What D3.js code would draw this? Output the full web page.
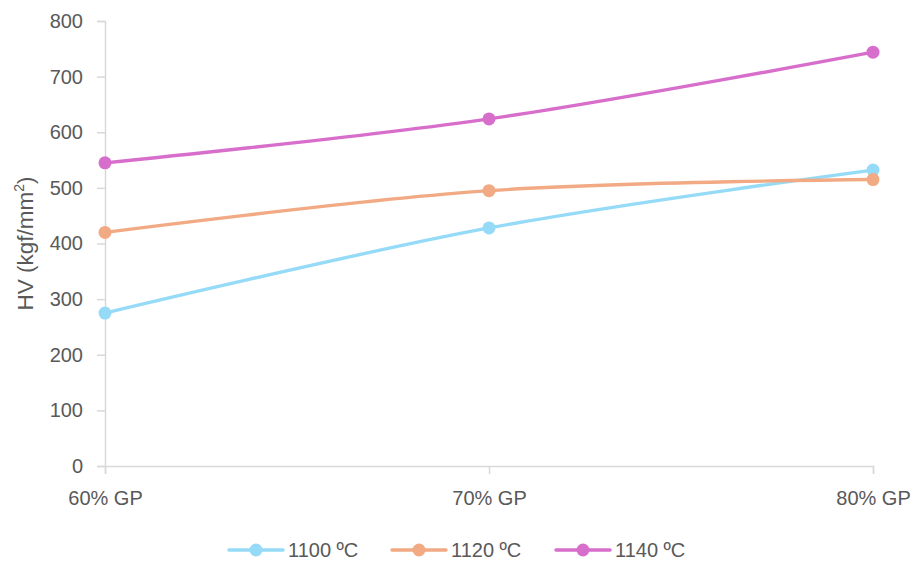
<!DOCTYPE html>
<html>
<head>
<meta charset="utf-8">
<script src="https://cdn.jsdelivr.net/npm/d3@7/dist/d3.min.js"></script>
<style>
  html, body { margin: 0; padding: 0; background: #fff; }
  svg { display: block; font-family: "Liberation Sans", Arial, sans-serif; }
</style>
</head>
<body>
<svg id="chart" width="917" height="566"></svg>
<script>
// Hardness by grain-phase fraction for three sintering temperatures
const categories = ["60% GP", "70% GP", "80% GP"];
const seriesNames = ["1100 ºC", "1120 ºC", "1140 ºC"];
const hv1100 = [275, 428, 532];
const hv1120 = [420, 495, 515];
const hv1140 = [545, 624, 744];
const yTicks = [0, 100, 200, 300, 400, 500, 600, 700, 800];
const colors = ["#95dbf7", "#f1aa83", "#d86ecc"];

const series = [hv1100, hv1120, hv1140].map((values, i) => ({
  name: seriesNames[i], values, color: colors[i]
}));

const svg = d3.select("#chart");
const margin = { left: 105, right: 44, top: 21, bottom: 100 };
const W = 917, H = 566;
const fontSize = 20;

const x = d3.scalePoint().domain(categories).range([margin.left, W - margin.right]);
const y = d3.scaleLinear().domain([0, 800]).range([H - margin.bottom, margin.top]);

const axisColor = "#d9d9d9";
const textColor = "#595959";

// Y axis
const yAxis = svg.append("g")
  .attr("transform", `translate(${margin.left},0)`)
  .call(d3.axisLeft(y).tickValues(yTicks).tickSize(8).tickPadding(14));
yAxis.select(".domain").attr("stroke", axisColor).attr("stroke-width", 1.5);
yAxis.selectAll(".tick line").attr("stroke", axisColor).attr("stroke-width", 1.5);
yAxis.selectAll(".tick text").attr("fill", textColor).attr("font-size", fontSize);

// X axis
const xAxis = svg.append("g")
  .attr("transform", `translate(0,${y(0)})`)
  .call(d3.axisBottom(x).tickSize(8));
xAxis.select(".domain").attr("stroke", axisColor).attr("stroke-width", 1.5);
xAxis.selectAll(".tick line").attr("stroke", axisColor).attr("stroke-width", 1.5);
xAxis.selectAll(".tick text").attr("fill", textColor).attr("font-size", fontSize)
  .attr("y", 39).attr("dy", null);

// Y axis title
const yTitle = svg.append("text")
  .attr("transform", `translate(33,${(y(0) + y(800)) / 2}) rotate(-90)`)
  .attr("text-anchor", "middle")
  .attr("fill", textColor)
  .attr("font-size", 22.5);
yTitle.append("tspan").text("HV (kgf/mm");
yTitle.append("tspan").text("2").attr("font-size", 14).attr("dy", -9);
yTitle.append("tspan").text(")").attr("dy", 9);

// Smoothed series lines with markers
const line = d3.line()
  .x((d, i) => x(categories[i]))
  .y(d => y(d))
  .curve(d3.curveCatmullRom.alpha(0));

const g = svg.append("g");
series.forEach(s => {
  g.append("path")
    .attr("d", line(s.values))
    .attr("fill", "none")
    .attr("stroke", s.color)
    .attr("stroke-width", 3.4)
    .attr("stroke-linecap", "round");
  g.selectAll(null).data(s.values).enter().append("circle")
    .attr("cx", (d, i) => x(categories[i]))
    .attr("cy", d => y(d))
    .attr("r", 6.5)
    .attr("fill", s.color);
});

// Legend
const legendX = [229, 392, 556];
const legendY = 550;
series.forEach((s, i) => {
  const lg = svg.append("g").attr("transform", `translate(${legendX[i]},${legendY})`);
  lg.append("line").attr("x1", 0).attr("x2", 54).attr("y1", 0).attr("y2", 0)
    .attr("stroke", s.color).attr("stroke-width", 3.4).attr("stroke-linecap", "round");
  lg.append("circle").attr("cx", 27).attr("cy", 0).attr("r", 6.5).attr("fill", s.color);
  lg.append("text").attr("x", 59).attr("y", 0).attr("dy", "0.35em")
    .attr("fill", textColor).attr("font-size", fontSize).text(s.name);
});
</script>
</body>
</html>
